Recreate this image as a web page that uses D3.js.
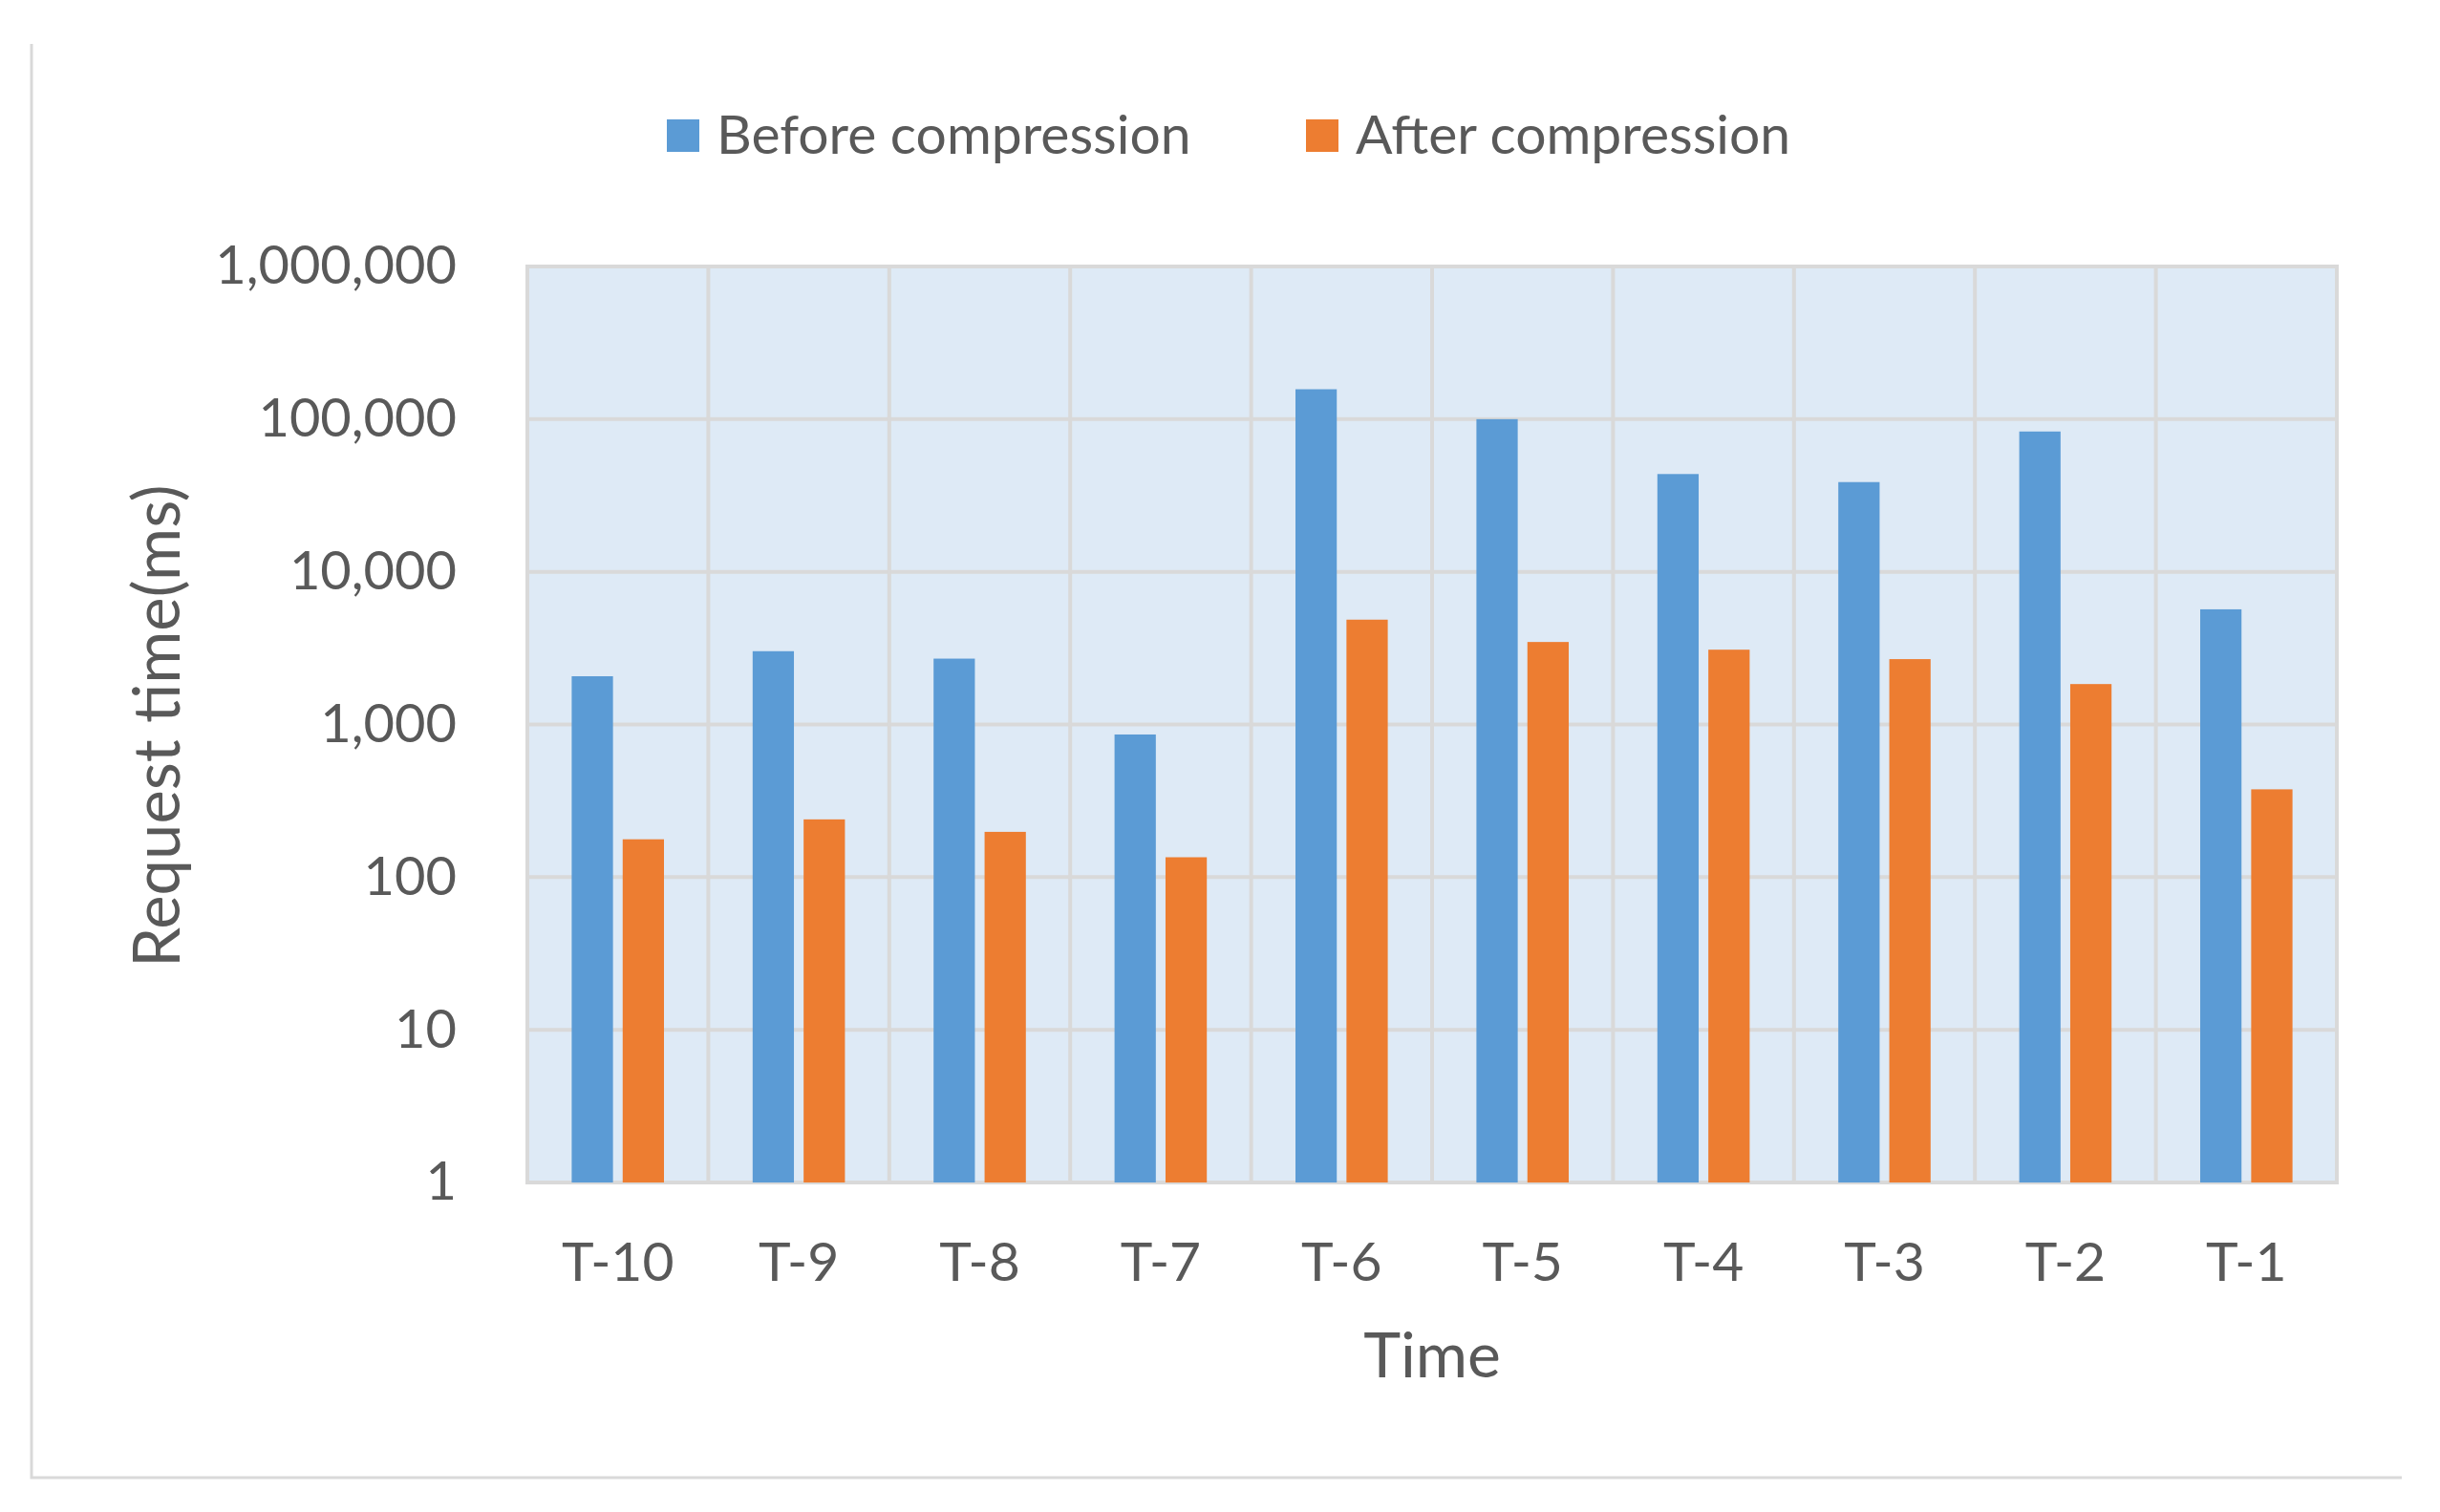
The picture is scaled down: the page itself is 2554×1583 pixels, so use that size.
<!doctype html>
<meta charset="utf-8">
<title>Request time before and after compression</title>
<script src="https://cdn.jsdelivr.net/npm/d3@7"></script>
<style>
  body { margin: 0; background: #fff; }
  text { font-family: Lato, "Open Sans", sans-serif; fill: #595959; }
</style>
<body>
<svg id="chart" width="2554" height="1583"></svg>
<script>

var categories = ["T-10", "T-9", "T-8", "T-7", "T-6", "T-5", "T-4", "T-3", "T-2", "T-1"];
var seriesNames = ["Before compression", "After compression"];
var before = [2070, 3020, 2700, 860, 157000, 100000, 43700, 38700, 83000, 5680];
var after = [177, 239, 198, 135, 4860, 3470, 3090, 2680, 1840, 376];
var yTicks = [1, 10, 100, 1000, 10000, 100000, 1000000];
var colors = ["#5B9BD5", "#ED7D31"];

var svg = d3.select("#chart");
var W = 2554, H = 1583;
var m = { left: 552, right: 108, top: 279, bottom: 345 };
var pw = W - m.left - m.right, ph = H - m.top - m.bottom;

// outer frame (only left + bottom edges visible)
svg.append("path")
  .attr("d", "M33,46V1547H2514")
  .attr("fill", "none")
  .attr("stroke", "#d9d9d9")
  .attr("stroke-width", 3);

var g = svg.append("g").attr("transform", "translate(" + m.left + "," + m.top + ")");

var x = d3.scaleBand().domain(categories).range([0, pw]).padding(0);
var y = d3.scaleLog().domain([1, 1000000]).range([ph, 0]);

var pairW = x.bandwidth() * 0.51;
var xs = d3.scaleBand().domain([0, 1])
  .range([(x.bandwidth() - pairW) / 2, (x.bandwidth() + pairW) / 2])
  .paddingInner(0.19);

// plot background
g.append("rect").attr("width", pw).attr("height", ph).attr("fill", "#DEEAF6");

// gridlines
g.selectAll(".hgrid").data(yTicks).enter().append("line")
  .attr("x1", 0).attr("x2", pw)
  .attr("y1", function(d) { return y(d); }).attr("y2", function(d) { return y(d); })
  .attr("stroke", "#d9d9d9").attr("stroke-width", 4);

g.selectAll(".vgrid").data(categories.slice(1)).enter().append("line")
  .attr("x1", function(d) { return x(d); }).attr("x2", function(d) { return x(d); })
  .attr("y1", 0).attr("y2", ph)
  .attr("stroke", "#d9d9d9").attr("stroke-width", 4);

g.append("rect").attr("width", pw).attr("height", ph)
  .attr("fill", "none").attr("stroke", "#d9d9d9").attr("stroke-width", 4);

// bars
var rows = categories.map(function(c, i) { return { cat: c, vals: [before[i], after[i]] }; });

var grp = g.selectAll(".cat").data(rows).enter().append("g")
  .attr("transform", function(d) { return "translate(" + x(d.cat) + ",0)"; });

grp.selectAll("rect").data(function(d) { return d.vals; }).enter().append("rect")
  .attr("x", function(d, i) { return xs(i); })
  .attr("width", xs.bandwidth())
  .attr("y", function(d) { return y(d); })
  .attr("height", function(d) { return ph - y(d); })
  .attr("fill", function(d, i) { return colors[i]; });

// y axis labels
var yAxis = d3.axisLeft(y).tickValues(yTicks).tickFormat(d3.format(",")).tickSize(0).tickPadding(74);
var ya = g.append("g").call(yAxis);
ya.select(".domain").remove();
ya.selectAll("text").style("font-size", "56px").attr("fill", "#595959")
  .style("font-family", "Lato, sans-serif");

// x axis labels
var xAxis = d3.axisBottom(x).tickSize(0).tickPadding(63);
var xa = g.append("g").attr("transform", "translate(0," + ph + ")").call(xAxis);
xa.select(".domain").remove();
xa.selectAll("text").style("font-size", "57px").attr("fill", "#595959")
  .style("font-family", "Lato, sans-serif");

// axis titles
svg.append("text")
  .attr("x", m.left + pw / 2).attr("y", 1442)
  .attr("text-anchor", "middle")
  .style("font-size", "66px")
  .text("Time");

svg.append("text")
  .attr("transform", "translate(188,760) rotate(-90)")
  .attr("text-anchor", "middle")
  .style("font-size", "67px")
  .text("Request time(ms)");

// legend
var legX = [698, 1367];
var leg = svg.selectAll(".leg").data(seriesNames).enter().append("g")
  .attr("transform", function(d, i) { return "translate(" + legX[i] + ",125)"; });
leg.append("rect").attr("width", 34).attr("height", 34)
  .attr("fill", function(d, i) { return colors[i]; });
leg.append("text").attr("x", 52).attr("y", 36)
  .style("font-size", "57px")
  .text(function(d) { return d; });

</script>
</body>
